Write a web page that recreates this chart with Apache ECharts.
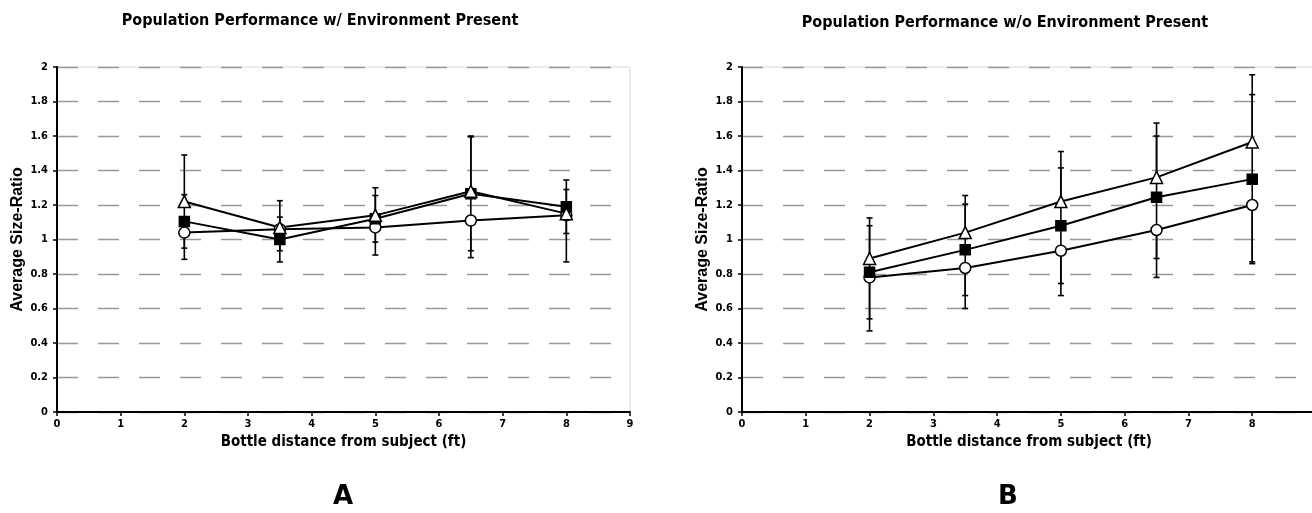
<!DOCTYPE html>
<html>
<head>
<meta charset="utf-8">
<script src="https://cdn.jsdelivr.net/npm/echarts@6/dist/echarts.min.js"></script>
<style>
  html, body { margin: 0; padding: 0; background: #fff; }
  #chart { width: 1312px; height: 513px; }
</style>
</head>
<body>
<div id="chart"></div>
<script>
// distances (ft)
const distances = [2, 3.5, 5, 6.5, 8];

// A: with environment present
const triA = [1.22, 1.07, 1.14, 1.28, 1.15];
const triErrA = [0.27, 0.155, 0.16, 0.32, 0.14];
const sqA = [1.105, 1.00, 1.12, 1.265, 1.19];
const sqErrA = [0.155, 0.13, 0.135, 0.33, 0.155];
const cirA = [1.04, 1.06, 1.07, 1.11, 1.14];
const cirErrA = [0.155, 0.125, 0.16, 0.215, 0.27];

// B: without environment present
const triB = [0.89, 1.04, 1.22, 1.36, 1.565];
const triErrB = [0.235, 0.215, 0.29, 0.315, 0.39];
const sqB = [0.81, 0.94, 1.08, 1.245, 1.35];
const sqErrB = [0.27, 0.265, 0.335, 0.355, 0.49];
const cirB = [0.78, 0.835, 0.935, 1.055, 1.20];
const cirErrB = [0.31, 0.235, 0.26, 0.275, 0.33];

const titleA = 'Population Performance w/ Environment Present';
const titleB = 'Population Performance w/o Environment Present';
const xName = 'Bottle distance from subject (ft)';
const yName = 'Average Size-Ratio';

const narrow = '"Liberation Sans Narrow", "DejaVu Sans Condensed", "Liberation Sans", sans-serif';
const wide = '"Liberation Sans", Arial, sans-serif';

function pts(vals) {
    return distances.map((x, i) => [x, vals[i]]);
}

// mode: 'up' = plus only, 'down' = minus only, 'both'
function errData(vals, errs, mode) {
    return distances.map((x, i) => {
        const lo = mode === 'up' ? vals[i] : vals[i] - errs[i];
        const hi = mode === 'down' ? vals[i] : vals[i] + errs[i];
        return [x, lo, hi, mode === 'up' ? 0 : 1, mode === 'down' ? 0 : 1];
    });
}

function renderErr(params, api) {
    const x = api.value(0);
    const pLo = api.coord([x, api.value(1)]);
    const pHi = api.coord([x, api.value(2)]);
    const w = 3;
    const st = { stroke: '#000', lineWidth: 1.6 };
    const kids = [{ type: 'line', shape: { x1: pLo[0], y1: pLo[1], x2: pHi[0], y2: pHi[1] }, style: st }];
    if (api.value(3)) kids.push({ type: 'line', shape: { x1: pLo[0] - w, y1: pLo[1], x2: pLo[0] + w, y2: pLo[1] }, style: st });
    if (api.value(4)) kids.push({ type: 'line', shape: { x1: pHi[0] - w, y1: pHi[1], x2: pHi[0] + w, y2: pHi[1] }, style: st });
    return { type: 'group', children: kids };
}

function xAxisFor(idx, showMax) {
    return {
        type: 'value', gridIndex: idx, min: 0, max: 9, interval: 1,
        name: xName, nameLocation: 'middle', nameGap: 21,
        nameTextStyle: { fontFamily: narrow, fontWeight: 'bold', fontSize: 15, color: '#000' },
        axisLine: { lineStyle: { color: '#000', width: 2 } },
        axisTick: { inside: false, length: 4, lineStyle: { color: '#000', width: 1.5 } },
        axisLabel: { margin: 7, showMaxLabel: showMax, fontFamily: narrow, fontWeight: 'bold', fontSize: 11, color: '#000' },
        splitLine: { show: false }
    };
}

function yAxisFor(idx) {
    return {
        type: 'value', gridIndex: idx, min: 0, max: 2, interval: 0.2,
        name: yName, nameLocation: 'middle', nameGap: 31, nameRotate: 90,
        nameTextStyle: { fontFamily: wide, fontWeight: 'bold', fontSize: 16, color: '#000' },
        axisLine: { show: true, lineStyle: { color: '#000', width: 2 } },
        axisTick: { show: true, inside: false, length: 4, lineStyle: { color: '#000', width: 1.5 } },
        axisLabel: { margin: 9, fontFamily: narrow, fontWeight: 'bold', fontSize: 11, color: '#000' },
        splitLine: { show: true, lineStyle: { color: '#999', width: 1.3, type: [21, 20] } }
    };
}

function lineSeries(idx, vals, symbol, fill, size) {
    return {
        type: 'line', xAxisIndex: idx, yAxisIndex: idx, data: pts(vals),
        symbol: symbol, symbolSize: size, showAllSymbol: true, z: 5,
        lineStyle: { color: '#000', width: 2 },
        itemStyle: { color: fill, borderColor: '#000', borderWidth: 1.5 }
    };
}

function errSeries(idx, data) {
    return {
        type: 'custom', xAxisIndex: idx, yAxisIndex: idx, data: data,
        renderItem: renderErr, z: 3, encode: { x: 0, y: [1, 2] }
    };
}

const chart = echarts.init(document.getElementById('chart'));
chart.setOption({
    animation: false,
    backgroundColor: '#fff',
    grid: [
        { left: 57, top: 67, width: 573, height: 345, show: true, borderColor: '#d8d8d8', borderWidth: 1, outerBoundsMode: 'none', containLabel: false },
        { left: 742, top: 67, width: 574, height: 345, show: true, borderColor: '#d8d8d8', borderWidth: 1, outerBoundsMode: 'none', containLabel: false }
    ],
    xAxis: [xAxisFor(0, true), xAxisFor(1, false)],
    yAxis: [yAxisFor(0), yAxisFor(1)],
    graphic: [
        { type: 'text', x: 320, y: 21, style: { text: titleA, fill: '#000', font: 'bold 16px ' + narrow, textAlign: 'center', textVerticalAlign: 'middle' } },
        { type: 'text', x: 1005, y: 23, style: { text: titleB, fill: '#000', font: 'bold 16px ' + narrow, textAlign: 'center', textVerticalAlign: 'middle' } },
        { type: 'text', x: 343, y: 497, style: { text: 'A', fill: '#000', font: 'bold 26px "DejaVu Sans", sans-serif', textAlign: 'center', textVerticalAlign: 'middle' } },
        { type: 'text', x: 1008, y: 497, style: { text: 'B', fill: '#000', font: 'bold 26px "DejaVu Sans", sans-serif', textAlign: 'center', textVerticalAlign: 'middle' } }
    ],
    series: [
        errSeries(0, errData(triA, triErrA, 'up')),
        errSeries(0, errData(sqA, sqErrA, 'both')),
        errSeries(0, errData(cirA, cirErrA, 'down')),
        lineSeries(0, cirA, 'circle', '#fff', 11),
        lineSeries(0, sqA, 'rect', '#000', 10),
        lineSeries(0, triA, 'triangle', '#fff', 12),
        errSeries(1, errData(triB, triErrB, 'up')),
        errSeries(1, errData(sqB, sqErrB, 'both')),
        errSeries(1, errData(cirB, cirErrB, 'down')),
        lineSeries(1, cirB, 'circle', '#fff', 11),
        lineSeries(1, sqB, 'rect', '#000', 10),
        lineSeries(1, triB, 'triangle', '#fff', 12)
    ]
});
</script>
</body>
</html>
